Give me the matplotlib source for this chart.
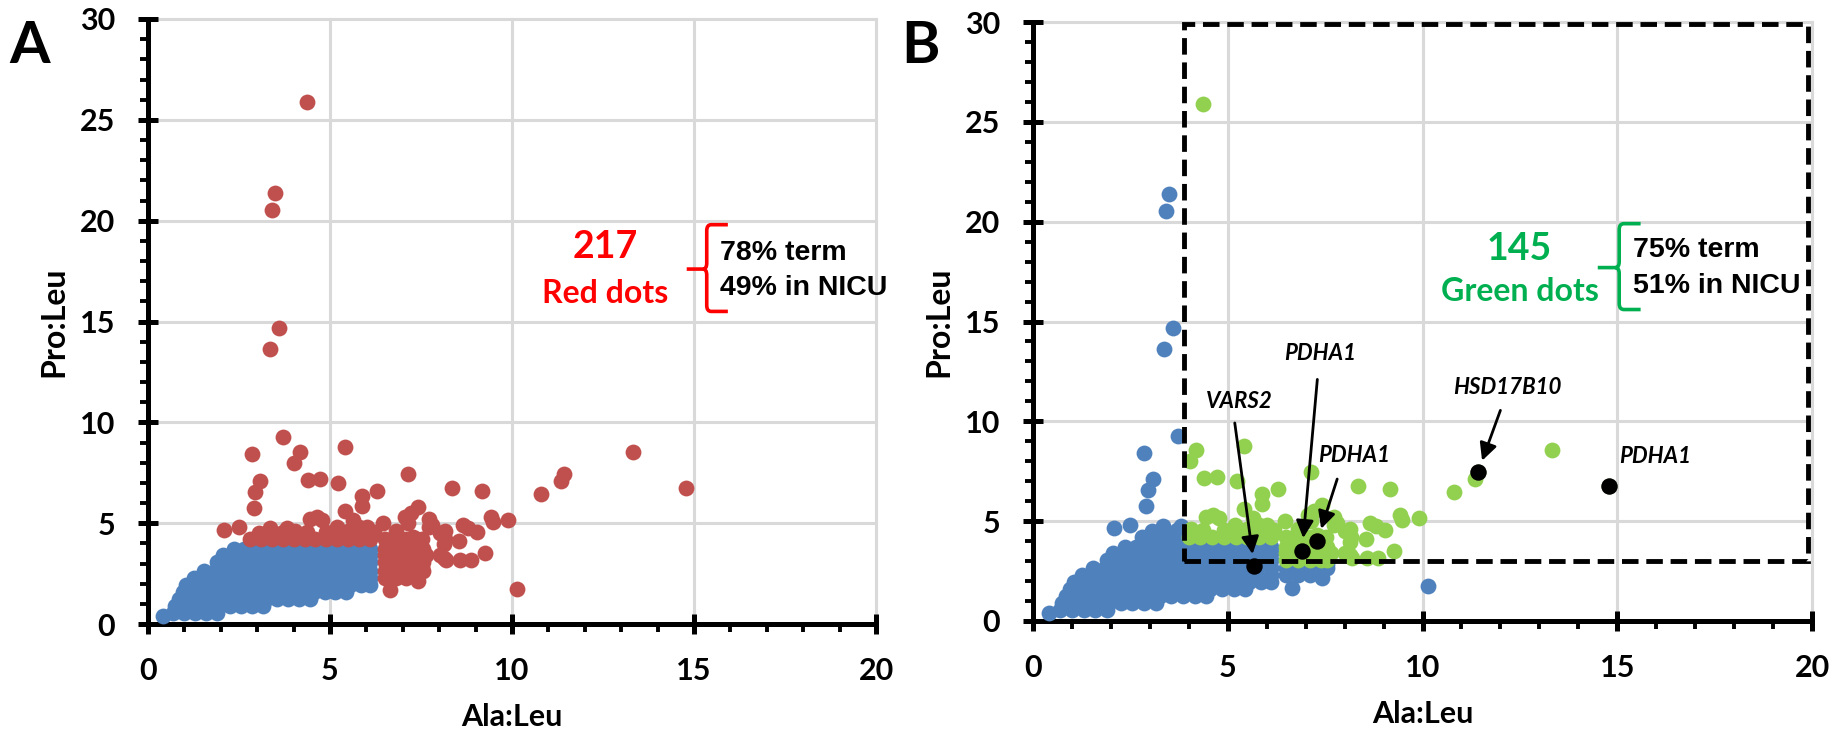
import numpy as np
import matplotlib
matplotlib.use('Agg')
import matplotlib.pyplot as plt
from matplotlib.path import Path
from matplotlib.patches import PathPatch, Rectangle

plt.rcParams['font.family'] = ['Lato', 'DejaVu Sans']
plt.rcParams['font.weight'] = 'bold'

# dense cloud of samples (Pro:Leu level -> Ala:Leu values)
cloud_rows_y = [0.55, 0.90, 1.25, 1.60, 1.95, 2.30, 2.65, 3.05, 3.40, 3.70, 4.20, 4.55]
cloud_rows_x = [
    [0.70, 1.00, 1.30, 1.60, 1.90],
    [0.75, 1.05, 1.35, 1.65, 1.95, 2.25, 2.55, 2.85, 3.15],
    [0.85, 1.15, 1.45, 1.75, 2.05, 2.35, 2.65, 2.95, 3.25, 3.55, 3.85, 4.15, 4.45],
    [0.95, 1.25, 1.55, 1.85, 2.15, 2.45, 2.75, 3.05, 3.35, 3.65, 3.95, 4.25, 4.55, 4.85,
     5.15, 5.45],
    [1.05, 1.35, 1.65, 1.95, 2.25, 2.55, 2.85, 3.15, 3.45, 3.75, 4.05, 4.35, 4.65, 4.95,
     5.25, 5.55, 5.85, 6.10],
    [1.25, 1.55, 1.85, 2.15, 2.45, 2.75, 3.05, 3.35, 3.65, 3.95, 4.25, 4.55, 4.85, 5.15,
     5.45, 5.75, 6.10, 6.50, 6.80, 7.10, 7.40],
    [1.55, 1.85, 2.15, 2.45, 2.75, 3.05, 3.35, 3.65, 3.95, 4.25, 4.55, 4.85, 5.15, 5.45,
     5.75, 6.10, 6.50, 6.80, 7.10, 7.40, 7.55],
    [1.90, 2.20, 2.50, 2.80, 3.10, 3.40, 3.70, 4.00, 4.30, 4.60, 4.90, 5.20, 5.50, 5.80,
     6.10, 6.50, 6.80, 7.10, 7.40, 7.55],
    [2.05, 2.35, 2.65, 2.95, 3.25, 3.55, 3.85, 4.15, 4.45, 4.75, 5.05, 5.35, 5.65, 5.95,
     6.10, 6.50, 6.80, 7.10, 7.40, 7.55],
    [2.35, 2.65, 2.95, 3.25, 3.55, 3.85, 4.15, 4.45, 4.75, 5.05, 5.35, 5.65, 5.95, 6.10,
     6.50, 6.80, 7.10, 7.40, 7.55],
    [2.80, 3.10, 3.40, 3.70, 4.00, 4.30, 4.60, 4.90, 5.20, 5.50, 5.80, 6.10, 6.50, 6.80,
     7.10, 7.40],
    [3.30, 3.70],
]

# scattered samples outside the cloud
out_x = [0.40, 4.36, 3.49, 3.42, 3.60, 3.36, 3.71, 2.86, 4.18, 4.02, 5.41, 3.07, 4.39, 4.73, 2.95,
         5.23, 2.91, 5.89, 5.87, 6.30, 5.42, 7.15, 7.43, 8.35, 9.17, 10.80, 11.35, 13.32,
         9.90, 9.41, 9.48, 9.04, 8.80, 8.65, 9.27, 8.86, 8.57, 8.54, 8.15, 8.13, 8.13, 8.02,
         7.73, 7.73, 7.53, 7.41, 6.65, 10.14, 2.08, 2.50, 7.22, 7.54, 7.65,
         3.35, 3.81, 4.36, 4.63, 4.77, 5.18, 5.64, 5.79, 6.01, 6.46, 7.81, 8.17, 7.15, 7.29,
         8.02, 4.05, 4.90, 5.50, 6.20, 6.80, 3.05, 4.45, 8.20, 7.05]
out_y = [0.40, 25.90, 21.38, 20.55, 14.66, 13.62, 9.27, 8.41, 8.55, 7.99, 8.78, 7.11, 7.16, 7.20, 6.56,
         7.00, 5.77, 6.37, 5.84, 6.60, 5.61, 7.46, 5.79, 6.74, 6.60, 6.44, 7.11, 8.55,
         5.14, 5.30, 5.07, 4.56, 4.75, 4.91, 3.52, 3.17, 3.17, 4.10, 4.61, 3.98, 3.29, 3.40,
         5.21, 4.79, 4.22, 2.13, 1.67, 1.74, 4.68, 4.80, 5.49, 2.83, 3.40,
         4.74, 4.74, 4.55, 5.32, 5.16, 4.82, 5.16, 4.81, 4.82, 4.99, 4.89, 4.22, 4.99, 4.33,
         4.50, 4.60, 4.55, 4.60, 4.55, 4.60, 4.50, 5.20, 3.17, 5.30]

# highlighted cases in panel B
gene_names = ['VARS2', 'PDHA1', 'PDHA1', 'HSD17B10', 'PDHA1']
gene_x = [5.68, 6.91, 7.30, 11.42, 14.78]
gene_y = [2.73, 3.53, 4.02, 7.44, 6.75]

# cut-offs: red (panel A) and the dashed box (panel B)
red_ala, red_pro = 6.3, 3.9
box_ala, box_pro = 3.87, 3.0

cx = np.concatenate([np.array(r) for r in cloud_rows_x])
cy = np.concatenate([np.full(len(r), y) for r, y in zip(cloud_rows_x, cloud_rows_y)])
x = np.concatenate([cx, out_x, gene_x])
y = np.concatenate([cy, out_y, gene_y])

is_red = (x > red_ala) | (y > red_pro)
is_green = is_red & (x > box_ala) & (y > box_pro)

BLUE, RED, GREEN = '#4F81BD', '#C0504D', '#92D050'
S = 130

fig = plt.figure(figsize=(18.39, 7.32), dpi=100)
axA = fig.add_axes([148/1839, 1-624/732, (876-148)/1839, (624-19)/732])
axB = fig.add_axes([1033/1839, 1-621/732, (1812-1033)/1839, (621-22)/732])


def style_axes(ax):
    ax.set_xlim(0, 20)
    ax.set_ylim(0, 30)
    ax.set_xticks(range(0, 21, 5))
    ax.set_yticks(range(0, 31, 5))
    ax.set_xticks(range(0, 21), minor=True)
    ax.set_yticks(range(0, 31), minor=True)
    ax.grid(True, which='major', color='#d9d9d9', lw=2.2)
    ax.set_axisbelow(True)
    for l in ax.get_xgridlines() + ax.get_ygridlines():
        l.set_clip_on(False)
    for s in ['top', 'right']:
        ax.spines[s].set_visible(False)
    for s in ['left', 'bottom']:
        ax.spines[s].set_linewidth(3.6)
    ax.tick_params(which='major', direction='inout', length=15, width=3.6, labelsize=22, pad=16)
    ax.tick_params(which='minor', direction='out', length=6, width=2.8)
    ax.tick_params(axis='x', which='major', pad=16)
    ax.set_xlabel('Ala:Leu', fontsize=22, fontweight='bold', labelpad=13)
    ax.set_ylabel('Pro:Leu', fontsize=23, fontweight='bold', labelpad=8)


def brace(ax, xt, xv, xh, ytop, ymid, ybot, color):
    verts = [(xh, ytop), (xv + 0.12, ytop), (xv, ytop), (xv, ytop - 0.3),
             (xv, ymid + 0.3), (xv, ymid), (xv - 0.1, ymid), (xt, ymid),
             (xv - 0.1, ymid), (xv, ymid), (xv, ymid - 0.3),
             (xv, ybot + 0.3), (xv, ybot), (xv + 0.12, ybot), (xh, ybot)]
    codes = [Path.MOVETO, Path.LINETO, Path.CURVE3, Path.CURVE3,
             Path.LINETO, Path.CURVE3, Path.CURVE3, Path.LINETO,
             Path.MOVETO, Path.CURVE3, Path.CURVE3,
             Path.LINETO, Path.CURVE3, Path.CURVE3, Path.LINETO]
    ax.add_patch(PathPatch(Path(verts, codes), fill=False, ec=color, lw=2.6,
                           capstyle='butt', joinstyle='round'))


# ---- panel A
style_axes(axA)
axA.scatter(x[~is_red], y[~is_red], s=S, c=BLUE, lw=0, zorder=3)
axA.scatter(x[is_red], y[is_red], s=S, c=RED, lw=0, zorder=4)
axA.text(12.55, 18.7, '217', color='#FF0000', fontsize=27, ha='center', va='center')
axA.text(12.55, 16.4, 'Red dots', color='#FF0000', fontsize=23, ha='center', va='center')
brace(axA, 14.8, 15.35, 15.93, 19.8, 17.6, 15.5, '#FF0000')
axA.text(15.71, 18.38, '78% term', fontsize=20.5, family=['Liberation Sans'], va='center')
axA.text(15.71, 16.64, '49% in NICU', fontsize=20.5, family=['Liberation Sans'], va='center')

# ---- panel B
style_axes(axB)
axB.scatter(x[~is_green], y[~is_green], s=S, c=BLUE, lw=0, zorder=3)
axB.scatter(x[is_green], y[is_green], s=S, c=GREEN, lw=0, zorder=4)
axB.scatter(gene_x, gene_y, s=S + 10, c='black', lw=0, zorder=5)
axB.add_patch(Rectangle((box_ala, box_pro), 19.9 - box_ala, 29.9 - box_pro, fill=False,
                        ec='black', lw=3.5, ls=(0, (3.4, 1.6)), zorder=6))
axB.text(12.49, 18.63, '145', color='#00B050', fontsize=27, ha='center', va='center')
axB.text(12.5, 16.49, 'Green dots', color='#00B050', fontsize=23, ha='center', va='center')
brace(axB, 14.5, 15.05, 15.6, 19.9, 17.7, 15.6, '#00B050')
axB.text(15.41, 18.58, '75% term', fontsize=20.5, family=['Liberation Sans'], va='center')
axB.text(15.41, 16.77, '51% in NICU', fontsize=20.5, family=['Liberation Sans'], va='center')

label_pos = [(5.30, 10.97), (7.36, 13.38), (8.24, 8.28), (12.18, 11.67), (15.96, 8.24)]
arrow_tail = [(5.18, 9.92), (7.30, 12.1), (7.81, 7.11), (12.0, 10.55), None]
for name, gx, gy, lp, tail in zip(gene_names, gene_x, gene_y, label_pos, arrow_tail):
    axB.text(lp[0], lp[1], name, fontsize=16, style='italic', ha='center', va='center', zorder=7)
    if tail is not None:
        axB.annotate('', xy=(gx, gy), xytext=tail, zorder=7,
                     arrowprops=dict(arrowstyle='-|>,head_length=0.7,head_width=0.35',
                                     mutation_scale=15, lw=2, color='black',
                                     shrinkA=0, shrinkB=9))

fig.text(29.5/1839, 1 - 46.5/732, 'A', fontsize=42, ha='center', va='center')
fig.text(920/1839, 1 - 46.5/732, 'B', fontsize=42, ha='center', va='center')

fig.savefig('out.png', dpi=100)
